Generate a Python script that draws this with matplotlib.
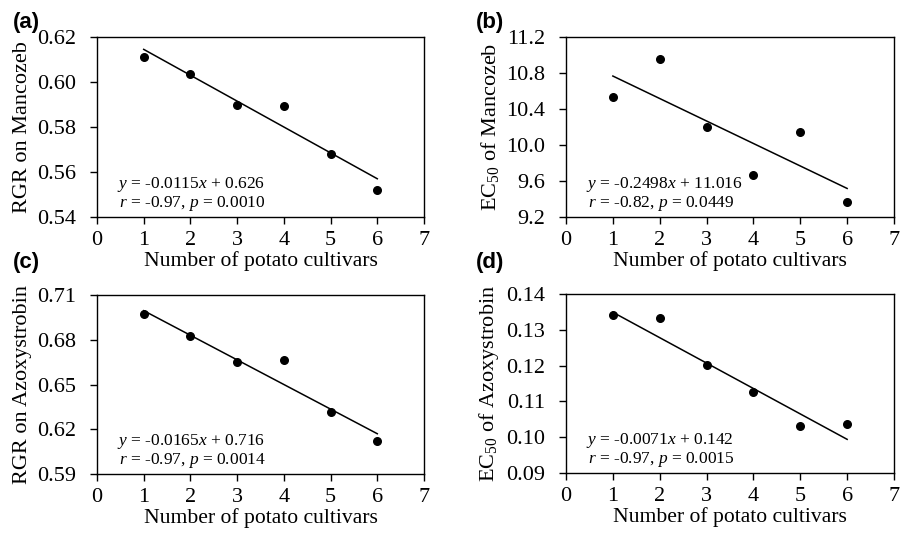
import numpy as np
import matplotlib
matplotlib.use("Agg")
import matplotlib.pyplot as plt

plt.rcParams["font.family"] = "Liberation Serif"
plt.rcParams["mathtext.fontset"] = "custom"
plt.rcParams["mathtext.rm"] = "Liberation Serif"
plt.rcParams["mathtext.it"] = "Liberation Serif:italic"

# Data
cultivars = [1, 2, 3, 4, 5, 6]
rgr_mancozeb = [0.611, 0.6035, 0.590, 0.5893, 0.5679, 0.552]
ec50_mancozeb = [10.535, 10.95, 10.196, 9.669, 10.141, 9.371]
rgr_azoxystrobin = [0.6974, 0.6822, 0.6654, 0.6665, 0.6315, 0.6118]
ec50_azoxystrobin = [0.1340, 0.1334, 0.1201, 0.1125, 0.1032, 0.1037]

slopes = [-0.0115, -0.2498, -0.0165, -0.0071]
intercepts = [0.626, 11.016, 0.716, 0.142]
eq_texts = ["-0.0115", "-0.2498", "-0.0165", "-0.0071"]
int_texts = ["0.626", "11.016", "0.716", "0.142"]
r_texts = ["-0.97", "-0.82", "-0.97", "-0.97"]
p_texts = ["0.0010", "0.0449", "0.0014", "0.0015"]

ylabels = ["RGR on Mancozeb", r"EC$_{\mathrm{50}}$ of Mancozeb",
           "RGR on Azoxystrobin", r"EC$_{\mathrm{50}}$ of Azoxystrobin"]
yticks = [
    ["0.54", "0.56", "0.58", "0.60", "0.62"],
    ["9.2", "9.6", "10.0", "10.4", "10.8", "11.2"],
    ["0.59", "0.62", "0.65", "0.68", "0.71"],
    ["0.09", "0.10", "0.11", "0.12", "0.13", "0.14"],
]
panel_labels = ["(a)", "(b)", "(c)", "(d)"]
series = [rgr_mancozeb, ec50_mancozeb, rgr_azoxystrobin, ec50_azoxystrobin]

fig = plt.figure(figsize=(9.06, 5.33), dpi=100)
W, H = 906, 533
boxes = [(97, 37, 424, 217), (566, 37, 894, 217),
         (97, 295, 424, 474), (566, 294, 894, 473)]
label_pos = [(13, 22), (476, 22), (13, 263), (476, 263)]

for i in range(4):
    x0, y0, x1, y1 = boxes[i]
    ax = fig.add_axes([x0 / W, 1 - y1 / H, (x1 - x0) / W, (y1 - y0) / H])
    ax.scatter(cultivars, series[i], s=30, color="black", zorder=3)
    xs = np.array([cultivars[0], cultivars[-1]])
    ax.plot(xs, slopes[i] * xs + intercepts[i], color="black", lw=1.1)

    ticks = [float(t) for t in yticks[i]]
    ax.set_ylim(ticks[0], ticks[-1])
    ax.set_yticks(ticks)
    ax.set_yticklabels(yticks[i])
    ax.set_xlim(0, 7)
    ax.set_xticks(range(8))
    ax.tick_params(direction="out", length=5, width=1, labelsize=16, colors="black")
    ax.tick_params(axis="y", pad=10)
    ax.tick_params(axis="x", pad=5)
    for sp in ax.spines.values():
        sp.set_linewidth(1)
    ax.set_ylabel(ylabels[i], fontsize=16, labelpad=4)
    ax.set_xlabel("Number of potato cultivars", fontsize=15.6, labelpad=1)

    ax.text(0.06, 0.161, r"$y$ = %s$x$ + %s" % (eq_texts[i], int_texts[i]),
            transform=ax.transAxes, fontsize=12.5, va="baseline")
    ax.text(0.067, 0.056, r"$r$ = %s, $p$ = %s" % (r_texts[i], p_texts[i]),
            transform=ax.transAxes, fontsize=12.5, va="baseline")

    lx, ly = label_pos[i]
    fig.text(lx / W, 1 - ly / H, panel_labels[i], fontsize=16, fontweight="bold",
             family="Liberation Sans", va="center", ha="left")

fig.savefig("out.png", dpi=100)
